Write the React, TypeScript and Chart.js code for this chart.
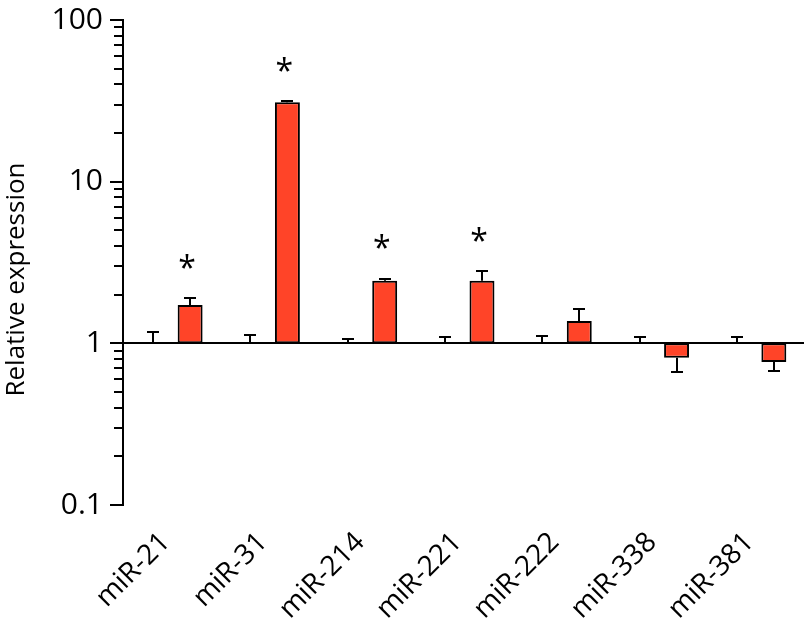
import React, { useEffect, useRef } from 'react';
import { Chart, registerables } from 'chart.js';

Chart.register(...registerables);

const categories = ['miR-21', 'miR-31', 'miR-214', 'miR-221', 'miR-222', 'miR-338', 'miR-381'];
const controlValues = [1, 1, 1, 1, 1, 1, 1];
const controlErrors = [1.18, 1.125, 1.063, 1.089, 1.105, 1.099, 1.099];
const treatedValues = [1.725, 31.0, 2.44, 2.44, 1.374, 0.814, 0.766];
const treatedErrors = [1.906, 31.5, 2.51, 2.79, 1.623, 0.665, 0.677];
const significant = [true, true, true, true, false, false, false];
const yTickLabels = [0.1, 1, 10, 100];
const yTitle = 'Relative expression';
const baseline = 1;

const FONT = '"Open Sans", Lato, sans-serif';
const BAR_COLOR = '#FF4428';

const overlayPlugin = {
  id: 'overlay',
  afterDatasetsDraw(chart: any) {
    const ctx: CanvasRenderingContext2D = chart.ctx;
    const y = chart.scales.y;
    const area = chart.chartArea;
    ctx.save();
    ctx.strokeStyle = '#000';
    ctx.fillStyle = '#000';
    ctx.lineWidth = 2;

    // y axis line
    const yTop = y.getPixelForValue(yTickLabels[yTickLabels.length - 1]);
    const yBot = y.getPixelForValue(yTickLabels[0]);
    ctx.beginPath();
    ctx.moveTo(area.left, yTop - 1);
    ctx.lineTo(area.left, yBot + 1);
    ctx.stroke();

    // y ticks (major and minor)
    for (let d = 0; d < yTickLabels.length - 1; d++) {
      const dec = yTickLabels[d];
      for (let k = 1; k <= 9; k++) {
        const v = dec * k;
        const py = Math.round(y.getPixelForValue(v));
        const len = k === 1 ? 13 : 9;
        ctx.beginPath();
        ctx.moveTo(area.left - len, py);
        ctx.lineTo(area.left, py);
        ctx.stroke();
      }
    }
    const pTop = Math.round(yTop);
    ctx.beginPath();
    ctx.moveTo(area.left - 13, pTop);
    ctx.lineTo(area.left, pTop);
    ctx.stroke();

    // baseline axis at 1
    const by = Math.round(y.getPixelForValue(baseline));
    ctx.beginPath();
    ctx.moveTo(area.left - 13, by);
    ctx.lineTo(area.right, by);
    ctx.stroke();

    // error bars
    const sets = [
      { vals: controlValues, errs: controlErrors },
      { vals: treatedValues, errs: treatedErrors },
    ];
    sets.forEach((s, di) => {
      const meta = chart.getDatasetMeta(di);
      meta.data.forEach((el: any, i: number) => {
        const x = Math.round(el.x);
        const pv = y.getPixelForValue(s.vals[i]);
        const pe = Math.round(y.getPixelForValue(s.errs[i]));
        ctx.beginPath();
        ctx.moveTo(x, pv);
        ctx.lineTo(x, pe);
        ctx.stroke();
        ctx.beginPath();
        ctx.moveTo(x - 6, pe);
        ctx.lineTo(x + 6, pe);
        ctx.stroke();
      });
    });

    // significance stars
    const meta1 = chart.getDatasetMeta(1);
    ctx.font = '32px ' + FONT;
    ctx.textAlign = 'center';
    ctx.textBaseline = 'alphabetic';
    const m = ctx.measureText('*');
    const asc = m.actualBoundingBoxAscent || 0;
    const desc = m.actualBoundingBoxDescent || 0;
    meta1.data.forEach((el: any, i: number) => {
      if (!significant[i]) return;
      const top = y.getPixelForValue(Math.max(treatedErrors[i], treatedValues[i]));
      const cy = top - 37;
      ctx.fillText('*', el.x - 3, cy + (asc - desc) / 2);
    });

    // y axis title
    ctx.font = '26px ' + FONT;
    ctx.textAlign = 'center';
    ctx.textBaseline = 'middle';
    ctx.translate(17, (area.top + area.bottom) / 2 + 17);
    ctx.rotate(-Math.PI / 2);
    ctx.fillText(yTitle, 0, 0);

    ctx.restore();
  },
};

export default function App() {
  const ref = useRef<HTMLCanvasElement | null>(null);

  useEffect(() => {
    const canvas = ref.current;
    if (!canvas) return;
    const chart = new Chart(canvas, {
      type: 'bar',
      data: {
        labels: categories,
        datasets: [
          {
            label: 'Control',
            data: controlValues.map((v) => [baseline, v]) as any,
            backgroundColor: 'rgba(0,0,0,0)',
            borderWidth: 0,
            categoryPercentage: 0.76,
            barPercentage: 0.675,
          },
          {
            label: 'Treated',
            data: treatedValues.map((v) => [baseline, v]) as any,
            backgroundColor: BAR_COLOR,
            borderColor: '#000',
            borderWidth: 2,
            borderSkipped: false,
            categoryPercentage: 0.76,
            barPercentage: 0.675,
          },
        ],
      },
      options: {
        responsive: false,
        animation: false,
        devicePixelRatio: 1,
        layout: { padding: { top: 20, right: 4, left: 0, bottom: 0 } },
        plugins: { legend: { display: false }, tooltip: { enabled: false } },
        scales: {
          x: {
            type: 'category',
            grid: { display: false, drawTicks: false },
            border: { display: false },
            ticks: {
              color: '#000',
              font: { family: FONT, size: 28 },
              minRotation: 45,
              maxRotation: 45,
              autoSkip: false,
              padding: 21,
              labelOffset: -6,
            },
            afterFit: (scale: any) => {
              scale.height = 127;
            },
          },
          y: {
            type: 'logarithmic',
            min: 0.1,
            max: 100,
            grid: {
              display: true,
              drawOnChartArea: false,
              drawTicks: true,
              tickLength: 20,
              color: 'rgba(0,0,0,0)',
            },
            border: { display: false },
            afterBuildTicks: (scale: any) => {
              scale.ticks = yTickLabels.map((v) => ({ value: v }));
            },
            ticks: {
              color: '#000',
              font: { family: FONT, size: 30 },
              padding: 0,
              autoSkip: false,
              callback: (v: any) => String(v),
            },
            title: { display: false },
            afterFit: (scale: any) => {
              scale.width = 123;
            },
          },
        },
      },
      plugins: [overlayPlugin],
    });
    return () => chart.destroy();
  }, []);

  return (
    <div style={{ position: 'absolute', left: 0, top: 0, width: 808, height: 632, background: '#fff' }}>
      <canvas ref={ref} width={808} height={632} style={{ display: 'block' }} />
    </div>
  );
}
